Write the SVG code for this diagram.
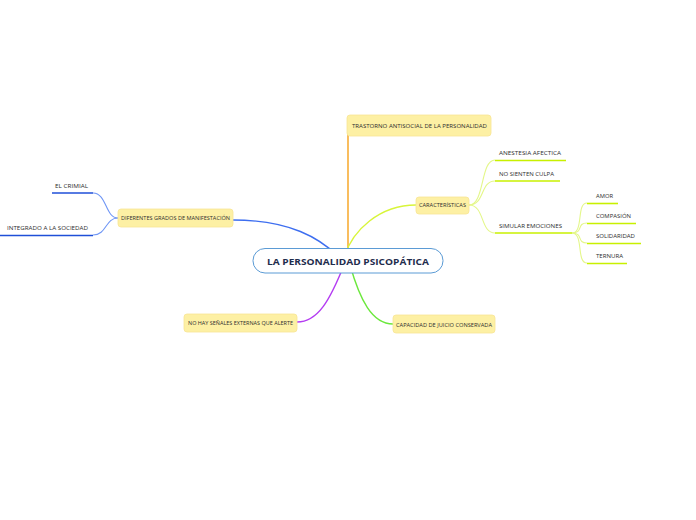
<svg xmlns="http://www.w3.org/2000/svg" width="696" height="520" viewBox="0 0 696 520">
<style>
.bg{fill:#ffffff}
.box{fill:#fdf0a4;stroke:#f8e594;stroke-width:0.8}
.t{font-family:"Open Sans","DejaVu Sans",sans-serif;font-size:5.6px;fill:#2e2e2e}
.title{font-family:"Open Sans","DejaVu Sans",sans-serif;font-size:9px;font-weight:bold;fill:#1f2d4d}
.c{fill:none;stroke-width:1.1}
.m{fill:none;stroke-width:1.4}
.u{fill:none;stroke-width:1.6}
</style>
<rect class="bg" width="696" height="520"/>
<g id="connectors">
<path class="m" stroke="#3d6ef0" d="M233,220 C290,220 320,238 340,258"/>
<path class="m" stroke="#f7a21b" d="M348,258 L348,124"/>
<path class="m" stroke="#d8f53a" d="M344,258 C352,230 380,205 416,205"/>
<path class="m" stroke="#b43cf2" d="M344,265 C330,300 318,322 297,322"/>
<path class="m" stroke="#6be83c" d="M350,265 C360,300 372,324 393,324"/>
<path class="c" stroke="#e4f78a" d="M469,205 C485,205 480,160 495,160"/>
<path class="c" stroke="#e4f78a" d="M469,205 C485,205 480,181 495,181"/>
<path class="c" stroke="#e4f78a" d="M469,205 C485,205 480,233 495,233"/>
<path class="c" stroke="#e4f78a" d="M572,233 C584,233 576,203 587,203"/>
<path class="c" stroke="#e4f78a" d="M572,233 C584,233 576,223 587,223"/>
<path class="c" stroke="#e4f78a" d="M572,233 C584,233 576,243 587,243"/>
<path class="c" stroke="#e4f78a" d="M572,233 C584,233 576,263 587,263"/>
<path class="c" stroke="#6f96f5" d="M118,218 C105,218 107,193 93,193"/>
<path class="c" stroke="#6f96f5" d="M118,218 C105,218 107,235 93,235"/>
</g>
<g id="central">
<rect x="253" y="248.5" width="190" height="24.5" rx="12" fill="#ffffff" stroke="#5b9bd5" stroke-width="1"/>
<text class="title" x="348" y="264.5" text-anchor="middle" textLength="162" lengthAdjust="spacingAndGlyphs">LA PERSONALIDAD PSICOPÁTICA</text>
</g>
<g id="trastorno">
<rect class="box" x="347" y="115" width="144" height="21" rx="3"/>
<text class="t" x="352" y="127.8" textLength="135" lengthAdjust="spacingAndGlyphs">TRASTORNO ANTISOCIAL DE LA PERSONALIDAD</text>
</g>
<g id="caracteristicas">
<rect class="box" x="416" y="197" width="53" height="17" rx="3"/>
<text class="t" x="419" y="207.3" textLength="47" lengthAdjust="spacingAndGlyphs">CARACTERÍSTICAS</text>
</g>
<g id="anestesia">
<text class="t" x="499" y="155" textLength="62" lengthAdjust="spacingAndGlyphs">ANESTESIA AFECTICA</text>
<path class="u" stroke="#c8f000" d="M495,160.5 H566"/>
</g>
<g id="culpa">
<text class="t" x="499" y="175.5" textLength="55" lengthAdjust="spacingAndGlyphs">NO SIENTEN CULPA</text>
<path class="u" stroke="#c8f000" d="M495,181 H560"/>
</g>
<g id="simular">
<text class="t" x="499" y="228" textLength="63" lengthAdjust="spacingAndGlyphs">SIMULAR EMOCIONES</text>
<path class="u" stroke="#c8f000" d="M495,233 H572"/>
</g>
<g id="amor">
<text class="t" x="596" y="198" textLength="17" lengthAdjust="spacingAndGlyphs">AMOR</text>
<path class="u" stroke="#c8f000" d="M587,203.5 H618"/>
</g>
<g id="compasion">
<text class="t" x="596" y="218" textLength="35" lengthAdjust="spacingAndGlyphs">COMPASIÓN</text>
<path class="u" stroke="#c8f000" d="M587,223.5 H636"/>
</g>
<g id="solidaridad">
<text class="t" x="596" y="238" textLength="39" lengthAdjust="spacingAndGlyphs">SOLIDARIDAD</text>
<path class="u" stroke="#c8f000" d="M587,243.5 H641"/>
</g>
<g id="ternura">
<text class="t" x="596" y="258" textLength="27" lengthAdjust="spacingAndGlyphs">TERNURA</text>
<path class="u" stroke="#c8f000" d="M587,263.5 H627"/>
</g>
<g id="diferentes">
<rect class="box" x="118" y="209" width="115" height="18" rx="3"/>
<text class="t" x="121" y="220" textLength="109" lengthAdjust="spacingAndGlyphs">DIFERENTES GRADOS DE MANIFESTACIÓN</text>
</g>
<g id="crimial">
<text class="t" x="55" y="188" textLength="33" lengthAdjust="spacingAndGlyphs">EL CRIMIAL</text>
<path class="u" stroke="#1f4fd8" d="M52,193 H93"/>
</g>
<g id="integrado">
<text class="t" x="7" y="230" textLength="81" lengthAdjust="spacingAndGlyphs">INTEGRADO A LA SOCIEDAD</text>
<path class="u" stroke="#1f4fd8" d="M0,235.5 H93"/>
</g>
<g id="senales">
<rect class="box" x="184" y="314" width="113" height="18" rx="3"/>
<text class="t" x="188" y="325" textLength="105" lengthAdjust="spacingAndGlyphs">NO HAY SEÑALES EXTERNAS QUE ALERTE</text>
</g>
<g id="capacidad">
<rect class="box" x="393" y="315" width="102" height="18" rx="3"/>
<text class="t" x="396" y="326.5" textLength="96" lengthAdjust="spacingAndGlyphs">CAPACIDAD DE JUICIO CONSERVADA</text>
</g>
</svg>
